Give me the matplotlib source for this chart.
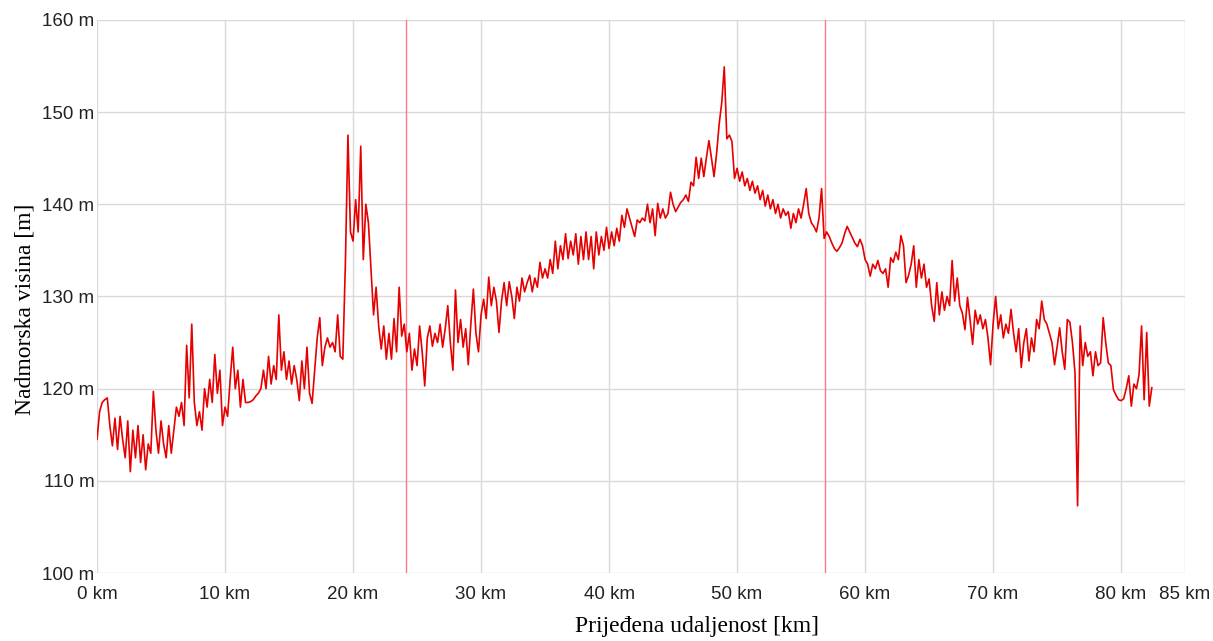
import numpy as np
import matplotlib
matplotlib.use("Agg")
import matplotlib.pyplot as plt

# elevation samples every 0.2 km, one row per km
step_km = 0.2
elev_m = [
    114.5, 117.5, 118.5, 118.8, 119.0,
    116.0, 113.8, 116.8, 113.4, 117.0,
    114.5, 112.5, 116.5, 111.0, 115.5,
    112.5, 116.0, 112.0, 115.0, 111.2,
    114.0, 113.0, 119.7, 115.5, 113.0,
    116.5, 114.0, 112.5, 116.0, 113.0,
    115.5, 118.0, 117.0, 118.5, 116.0,
    124.7, 119.0, 127.0, 118.5, 116.0,
    117.5, 115.5, 120.0, 118.0, 121.0,
    118.5, 123.7, 119.5, 122.0, 116.0,
    118.0, 117.0, 121.0, 124.5, 120.0,   # 10 km
    122.0, 118.0, 121.0, 118.5, 118.5,
    118.6, 118.8, 119.2, 119.5, 120.0,
    122.0, 120.0, 123.5, 120.5, 122.5,
    121.0, 128.0, 122.0, 124.0, 121.0,
    123.0, 120.5, 122.5, 121.0, 118.7,
    123.0, 120.0, 124.5, 119.5, 118.4,
    122.0, 125.5, 127.7, 122.5, 124.5,
    125.5, 124.5, 125.0, 124.0, 128.0,
    123.5, 123.2, 133.5, 147.5, 137.0,
    136.0, 140.5, 137.0, 146.3, 134.0,   # 20 km
    140.0, 138.0, 133.0, 128.0, 131.0,
    126.8, 124.3, 126.8, 123.2, 126.0,
    123.2, 127.6, 124.0, 131.0, 125.7,
    127.0, 124.0, 126.0, 122.0, 124.3,
    122.5, 126.8, 124.0, 120.3, 125.5,
    126.8, 124.6, 126.0, 125.0, 127.0,
    124.5, 126.5, 129.0, 125.0, 122.0,
    130.7, 125.0, 127.5, 124.5, 126.5,
    122.6, 127.0, 130.8, 126.0, 124.0,
    128.0, 129.7, 127.6, 132.1, 129.0,   # 30 km
    131.0, 129.5, 126.1, 129.5, 131.5,
    129.0, 131.6, 130.0, 127.6, 131.0,
    129.5, 132.0, 130.5, 131.5, 132.3,
    130.5, 132.0, 131.0, 133.7, 132.0,
    133.0, 132.0, 134.0, 132.5, 136.0,
    133.0, 135.5, 134.0, 136.8, 134.1,
    136.0, 134.5, 136.8, 133.5, 136.5,
    134.0, 137.0, 134.0, 136.5, 133.0,
    137.0, 134.5, 136.5, 135.0, 137.5,
    135.2, 137.0, 135.5, 137.4, 136.0,   # 40 km
    138.8, 137.5, 139.5, 138.5, 137.5,
    136.5, 138.3, 138.0, 138.5, 138.2,
    140.0, 138.0, 139.5, 136.6, 140.1,
    138.5, 139.5, 138.5, 139.0, 141.3,
    140.0, 139.2, 139.7, 140.2, 140.5,
    141.0, 140.3, 142.4, 142.0, 145.1,
    142.8, 145.0, 143.0, 145.0, 146.9,
    145.0, 143.0, 145.5, 148.7, 151.0,
    154.9, 147.1, 147.5, 146.8, 142.8,
    143.9, 142.5, 143.5, 142.0, 142.8,   # 50 km
    141.5, 142.5, 141.2, 142.0, 140.5,
    141.5, 139.8, 141.0, 139.5, 140.5,
    139.0, 140.0, 138.5, 139.5, 138.8,
    139.2, 137.4, 139.0, 138.0, 139.5,
    138.5, 140.0, 141.7, 139.0, 138.0,
    137.6, 137.0, 138.5, 141.7, 136.3,
    137.0, 136.5, 135.8, 135.2, 134.9,
    135.3, 135.8, 136.8, 137.6, 137.0,
    136.4, 135.8, 135.4, 136.2, 135.5,
    134.0, 133.5, 132.2, 133.5, 133.0,   # 60 km
    133.9, 132.8, 132.5, 133.0, 131.0,
    134.2, 133.7, 134.8, 134.0, 136.6,
    135.5, 131.5, 132.3, 133.5, 135.5,
    131.0, 134.0, 132.0, 133.5, 131.0,
    131.9, 129.0, 127.3, 131.5, 128.0,
    130.5, 128.5, 130.0, 129.0, 133.9,
    129.5, 132.0, 129.0, 128.2, 126.4,
    129.9, 127.5, 124.8, 128.5, 127.0,
    128.0, 126.5, 127.5, 125.5, 122.6,
    127.0, 130.0, 126.5, 128.0, 125.5,   # 70 km
    127.0, 126.0, 128.6, 126.0, 124.0,
    126.5, 122.3, 125.0, 126.5, 123.0,
    125.5, 124.0, 127.5, 126.5, 129.5,
    127.5, 127.0, 126.0, 125.0, 122.6,
    124.5, 126.6, 124.0, 122.1, 127.5,
    127.2, 125.0, 121.7, 107.3, 126.8,
    122.5, 125.0, 123.5, 124.0, 121.4,
    124.0, 122.5, 122.8, 127.7, 125.0,
    122.8, 122.5, 119.9, 119.3, 118.8,
    118.7, 118.9, 120.0, 121.4, 118.1,   # 80 km
    120.5, 120.0, 121.5, 126.8, 118.8,
    126.1, 118.1, 120.1,
]
dist_km = np.arange(len(elev_m)) * step_km

# the two marked points on the route
marker_km = [24.1, 56.9]

x_ticks = [0, 10, 20, 30, 40, 50, 60, 70, 80, 85]
y_ticks = [100, 110, 120, 130, 140, 150, 160]

fig = plt.figure(figsize=(12.13, 6.41), dpi=100)
ax = fig.add_axes([0.08, 0.106, 0.897, 0.863])

ax.plot(dist_km, elev_m, color="#e60000", linewidth=1.2, zorder=3)
for m in marker_km:
    ax.axvline(m, color="#ff7a7a", linewidth=1.0, zorder=2)

ax.set_xlim(0, 85)
ax.set_ylim(100, 160)
ax.set_xticks(x_ticks)
ax.set_xticklabels([f"{t} km" for t in x_ticks])
ax.set_yticks(y_ticks)
ax.set_yticklabels([f"{t} m" for t in y_ticks])
ax.grid(True, color="#d9d9d9", linewidth=1.0)
ax.set_axisbelow(True)
for s in ax.spines.values():
    s.set_visible(False)
ax.tick_params(length=0, labelsize=13.5, labelcolor="#222222")
ax.tick_params(axis="x", pad=9)
ax.tick_params(axis="y", pad=2)
for lab in ax.get_xticklabels() + ax.get_yticklabels():
    lab.set_family("Liberation Sans")

ax.set_xlabel("Prijeđena udaljenost [km]", family="Liberation Serif", fontsize=17, labelpad=10)
ax.set_ylabel("Nadmorska visina [m]", family="Liberation Serif", fontsize=17, labelpad=4)
ax.xaxis.set_label_coords(0.551, -0.077)
ax.yaxis.set_label_coords(-0.057, 0.476)

fig.savefig("out.png", dpi=100)
